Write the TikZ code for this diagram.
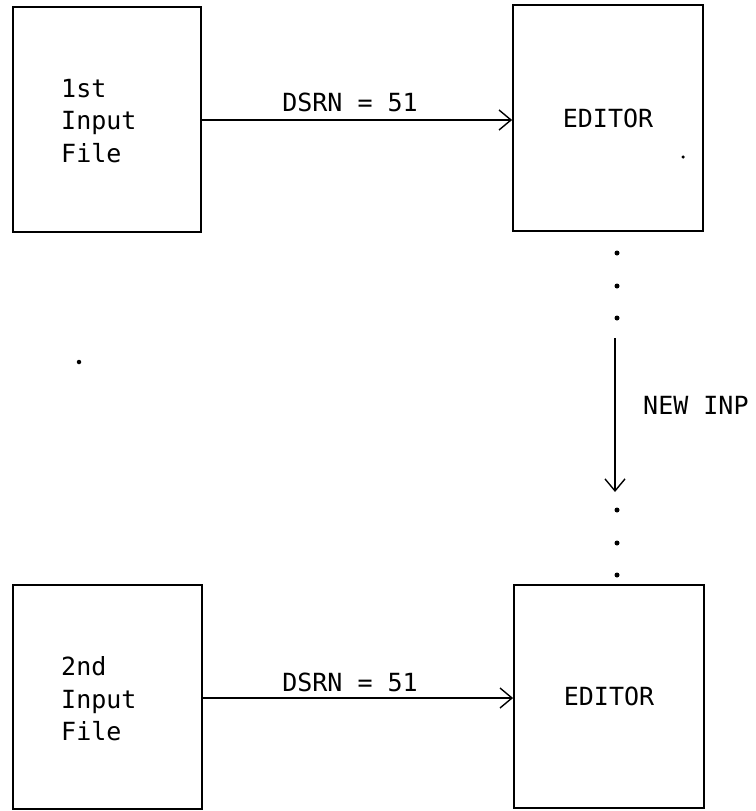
\documentclass[tikz,border=0pt]{standalone}
\usepackage{fontspec}
\setmonofont{DejaVu Sans Mono}
\usetikzlibrary{arrows.meta}
\begin{document}
\begin{tikzpicture}[x=1pt,y=-1pt,
  box/.style={draw,line width=1.8pt,rectangle,inner sep=0pt,font=\ttfamily\fontsize{25}{32.5}\selectfont},
  txt/.style={font=\ttfamily\fontsize{25}{32.5}\selectfont,inner sep=0pt},
  conn/.style={line width=1.4pt,-{Straight Barb[length=12pt,width=20pt,line width=1.4pt]}},
  dotmark/.style={circle,fill,inner sep=0pt,minimum size=5pt}]
\useasboundingbox (0,0) rectangle (755,811);
% boxes
\node[box,minimum width=188pt,minimum height=225pt] (tl) at (107,119.5) {};
\node[box,minimum width=190pt,minimum height=226pt] (tr) at (608,118) {EDITOR};
\node[box,minimum width=189pt,minimum height=224pt] (bl) at (107.5,697) {};
\node[box,minimum width=190pt,minimum height=223pt] (br) at (609,696.5) {EDITOR};
% texts in input boxes
\node[txt,align=left,anchor=west] (tltext) at (61,121) {1st\\Input\\File};
\node[txt,align=left,anchor=west] (bltext) at (61,699) {2nd\\Input\\File};
% horizontal connectors
\draw[conn] (tl.east) ++(0,0.5) coordinate (a1) -- (a1 -| tr.west);
\node[txt] (l1) at (350,102) {DSRN = 51};
\draw[conn] (bl.east) ++(0,1) coordinate (a2) -- (a2 -| br.west);
\node[txt] (l2) at (350,682) {DSRN = 51};
% vertical dotted path with arrow
\node[dotmark] (d1) at (617,253) {};
\node[dotmark] (d2) at (617,286) {};
\node[dotmark] (d3) at (617,318) {};
\coordinate (vs) at (615,338);
\coordinate (ve) at (615,492);
\draw[conn] (vs) -- (ve);
\node[dotmark] (d4) at (617,510) {};
\node[dotmark] (d5) at (617,543) {};
\node[dotmark] (d6) at (617,575) {};
\node[txt,anchor=west] (newinp) at (643,405) {NEW INP};
% stray marks
\node[dotmark,minimum size=3.5pt] (s1) at (683,157) {};
\node[dotmark,minimum size=4.5pt] (s2) at (79,362) {};
\end{tikzpicture}
\end{document}
